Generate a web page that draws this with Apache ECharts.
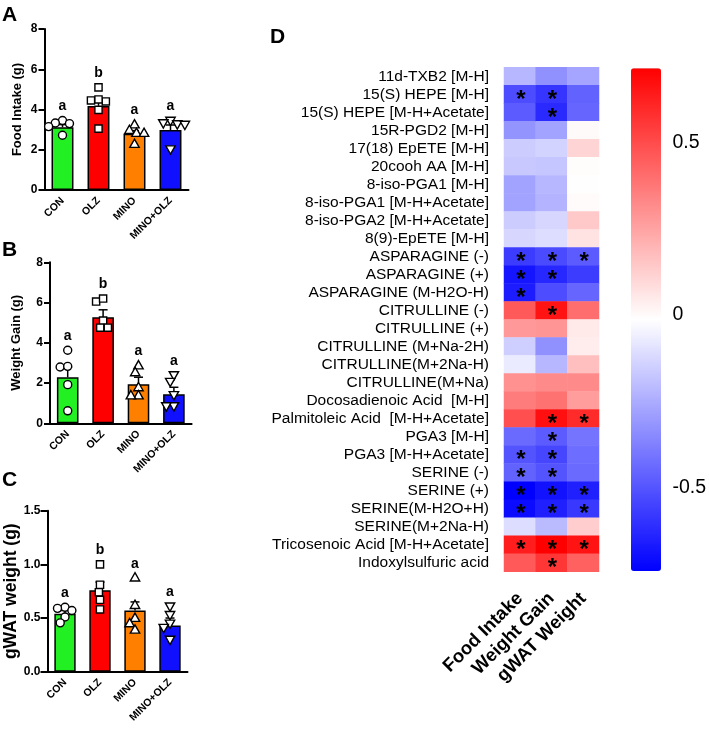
<!DOCTYPE html>
<html><head><meta charset="utf-8">
<script src="https://cdn.jsdelivr.net/npm/echarts@6/dist/echarts.min.js"></script>
<style>html,body{margin:0;padding:0;background:#fff}#c{width:709px;height:738px}</style>
</head><body><div id="c"></div>
<script>
// ---------- data: bar panels ----------
const groups = ['CON', 'OLZ', 'MINO', 'MINO+OLZ'];

const foodMean = [3.12, 4.18, 2.79, 2.98];
const foodSem = [0.13, 0.30, 0.16, 0.25];
const foodPoints = [
  [3.45, 3.33, 3.3, 3.15, 2.72],
  [5.1, 4.45, 4.4, 4.5, 3.98, 3.05],
  [3.25, 2.97, 2.83, 2.83, 2.28],
  [3.45, 3.33, 3.28, 3.25, 2.03]
];
const foodLetters = ['a', 'b', 'a', 'a'];

const weightMean = [2.29, 5.27, 1.94, 1.44];
const weightSem = [0.5, 0.37, 0.35, 0.35];
const weightPoints = [
  [3.63, 2.8, 2.83, 1.92, 0.62],
  [6.05, 6.2, 5.1, 4.75, 4.75],
  [2.87, 2.53, 1.78, 1.38, 1.38],
  [2.4, 2.07, 1.41, 0.86, 0.86]
];
const weightLetters = ['a', 'b', 'a', 'a'];

const gwatMean = [0.54, 0.76, 0.57, 0.43];
const gwatSem = [0.03, 0.075, 0.08, 0.07];
const gwatPoints = [
  [0.60, 0.57, 0.59, 0.51, 0.455],
  [1.0, 0.74, 0.81, 0.67, 0.58],
  [0.876, 0.62, 0.50, 0.45, 0.39],
  [0.61, 0.53, 0.45, 0.41, 0.30]
];
const gwatLetters = ['a', 'b', 'a', 'a'];

const yTicks46 = [0, 2, 4, 6, 8];
const yTicksC = [0, 0.5, 1.0, 1.5];

// ---------- data: heatmap ----------
const metabolites = [
  '11d-TXB2 [M-H]', '15(S) HEPE [M-H]', '15(S) HEPE [M-H+Acetate]', '15R-PGD2 [M-H]',
  '17(18) EpETE [M-H]', '20cooh AA [M-H]', '8-iso-PGA1 [M-H]', '8-iso-PGA1 [M-H+Acetate]',
  '8-iso-PGA2 [M-H+Acetate]', '8(9)-EpETE [M-H]', 'ASPARAGINE (-)', 'ASPARAGINE (+)',
  'ASPARAGINE (M-H2O-H)', 'CITRULLINE (-)', 'CITRULLINE (+)', 'CITRULLINE (M+Na-2H)',
  'CITRULLINE(M+2Na-H)', 'CITRULLINE(M+Na)', 'Docosadienoic Acid  [M-H]', 'Palmitoleic Acid  [M-H+Acetate]',
  'PGA3 [M-H]', 'PGA3 [M-H+Acetate]', 'SERINE (-)', 'SERINE (+)',
  'SERINE(M-H2O+H)', 'SERINE(M+2Na-H)', 'Tricosenoic Acid [M-H+Acetate]', 'Indoxylsulfuric acid'
];
const traits = ['Food Intake', 'Weight Gain', 'gWAT Weight'];
const corrFood = [-0.22, -0.52, -0.48, -0.32, -0.16, -0.17, -0.28, -0.28, -0.16, -0.13,
  -0.57, -0.68, -0.66, 0.46, 0.28, -0.15, -0.07, 0.30, 0.36, 0.49,
  -0.44, -0.50, -0.46, -0.741, -0.71, -0.11, 0.63, 0.46];
const corrWeight = [-0.33, -0.59, -0.62, -0.28, -0.14, -0.18, -0.22, -0.23, -0.13, -0.11,
  -0.53, -0.63, -0.52, 0.66, 0.29, -0.33, -0.22, 0.32, 0.39, 0.67,
  -0.48, -0.54, -0.50, -0.69, -0.65, -0.21, 0.714, 0.56];
const corrGwat = [-0.27, -0.46, -0.45, 0.0, 0.11, -0.005, -0.01, -0.003, 0.14, 0.07,
  -0.48, -0.57, -0.45, 0.40, 0.05, 0.04, 0.17, 0.32, 0.27, 0.59,
  -0.41, -0.43, -0.44, -0.65, -0.58, 0.13, 0.66, 0.44];
const sigFood = [1, 10, 11, 12, 21, 22, 23, 24, 26];
const sigWeight = [1, 2, 10, 11, 13, 19, 20, 21, 22, 23, 24, 26, 27];
const sigGwat = [10, 19, 23, 24, 26];
const colorMin = -0.741, colorMax = 0.714;
const colorTicks = [-0.5, 0, 0.5];

// ---------- styles ----------
const FONT = 'Liberation Sans, Arial, sans-serif';
const barColors = ['#22f022', '#ff0000', '#ff8000', '#1010ff'];
const symbols = ['circle', 'rect', 'triangle', 'triangleDown'];

function swarmOffsets(ys, d) {
  const order = ys.map((y, i) => i).sort((a, b) => ys[a] - ys[b]);
  const xs = ys.map(() => 0);
  const placed = [];
  for (const i of order) {
    const bans = [];
    for (const j of placed) {
      const dy = Math.abs(ys[j] - ys[i]);
      if (dy < d) { const w = Math.sqrt(d * d - dy * dy); bans.push([xs[j] - w, xs[j] + w]); }
    }
    const cands = [0];
    bans.forEach(b => cands.push(b[0], b[1]));
    cands.sort((a, b) => (Math.abs(a) - Math.abs(b)) || (a - b));
    let best = 0;
    for (const c of cands) {
      if (bans.every(b => c <= b[0] + 1e-6 || c >= b[1] - 1e-6)) { best = c; break; }
    }
    xs[i] = best; placed.push(i);
  }
  return xs;
}

function shapeFor(kind, cx, cy) {
  const style = { fill: '#fff', stroke: '#000', lineWidth: 1.4 };
  if (kind === 'circle') return { type: 'circle', shape: { cx, cy, r: 4 }, style };
  if (kind === 'rect') return { type: 'rect', shape: { x: cx - 3.6, y: cy - 3.6, width: 7.2, height: 7.2 }, style };
  if (kind === 'triangle') return { type: 'polygon', shape: { points: [[cx, cy - 5], [cx + 4.7, cy + 3.3], [cx - 4.7, cy + 3.3]] }, style };
  return { type: 'polygon', shape: { points: [[cx - 4.7, cy - 3.3], [cx + 4.7, cy - 3.3], [cx, cy + 5]] }, style };
}

function panelSeries(idx, means, sems, pts, letters) {
  const pointData = [];
  pts.forEach((arr, g) => arr.forEach((v, k) => pointData.push([g, v, k])));
  return [
    {
      type: 'bar', xAxisIndex: idx, yAxisIndex: idx, barWidth: '61%', z: 2,
      data: means.map((m, g) => ({ value: m, itemStyle: { color: barColors[g] } })),
      itemStyle: { borderColor: '#000', borderWidth: 1.5 },
      emphasis: { disabled: true }, silent: true
    },
    {
      type: 'custom', xAxisIndex: idx, yAxisIndex: idx, silent: true, z: 5, clip: false,
      data: means.map((m, g) => [g, m, sems[g]]),
      renderItem: (params, api) => {
        const g = api.value(0), m = api.value(1), s = api.value(2);
        const b = api.coord([g, m]), t = api.coord([g, m + s]);
        const ls = { stroke: '#000', lineWidth: 1.5 };
        return { type: 'group', children: [
          { type: 'line', shape: { x1: b[0], y1: b[1], x2: t[0], y2: t[1] }, style: ls },
          { type: 'line', shape: { x1: t[0] - 4.5, y1: t[1], x2: t[0] + 4.5, y2: t[1] }, style: ls }
        ] };
      }
    },
    {
      type: 'custom', xAxisIndex: idx, yAxisIndex: idx, silent: true, z: 6, clip: false,
      data: pointData,
      renderItem: (params, api) => {
        const g = api.value(0), v = api.value(1), k = api.value(2);
        const ys = pts[g].map(val => api.coord([g, val])[1]);
        const offs = swarmOffsets(ys, 7.6);
        const c = api.coord([g, v]);
        return shapeFor(symbols[g], c[0] + offs[k], c[1]);
      }
    },
    {
      type: 'custom', xAxisIndex: idx, yAxisIndex: idx, silent: true, z: 6, clip: false,
      data: letters.map((l, g) => [g, Math.max.apply(null, pts[g])]),
      renderItem: (params, api) => {
        const g = api.value(0);
        const c = api.coord([g, api.value(1)]);
        return { type: 'text', x: c[0], y: c[1] - 7, style: {
          text: letters[g], fill: '#000', font: 'bold 14px ' + FONT, align: 'center', verticalAlign: 'bottom' } };
      }
    }
  ];
}

const panelGrids = [
  { left: 44.5, top: 29, width: 144, height: 161 },
  { left: 50, top: 262.3, width: 141.6, height: 161 },
  { left: 47.5, top: 510.7, width: 140, height: 161 }
];

function barXAxis(i) {
  return {
    type: 'category', gridIndex: i, data: groups,
    axisLine: { lineStyle: { color: '#000', width: 2 } },
    axisTick: { alignWithLabel: true, length: 6, lineStyle: { color: '#000', width: 2 } },
    axisLabel: { rotate: 45, interval: 0, fontSize: 10.5, fontWeight: 'bold', color: '#000', fontFamily: FONT, margin: 9 }
  };
}
function barYAxis(i, name, max, interval, nameSize, nameGap, ticks, fmt, tickLen) {
  return {
    type: 'value', gridIndex: i, min: 0, max, interval,
    name, nameLocation: 'middle', nameGap,
    nameTextStyle: { fontSize: nameSize, fontWeight: 'bold', color: '#000', fontFamily: FONT },
    axisLine: { show: true, lineStyle: { color: '#000', width: 2 } },
    axisTick: { show: true, length: tickLen, lineStyle: { color: '#000', width: 2 } },
    axisLabel: { color: '#000', fontWeight: 'bold', fontSize: 12, fontFamily: FONT, margin: 7,
      customValues: ticks, formatter: fmt },
    splitLine: { show: false }
  };
}

const heatData = [];
[corrFood, corrWeight, corrGwat].forEach((col, x) => {
  const sig = [sigFood, sigWeight, sigGwat][x];
  col.forEach((v, y) => heatData.push([x, y, v, sig.indexOf(y) >= 0 ? 1 : 0]));
});

const option = {
  animation: false,
  backgroundColor: '#fff',
  graphic: [
    { type: 'text', left: 2, top: 5, style: { text: 'A', font: 'bold 21px ' + FONT, fill: '#000' } },
    { type: 'text', left: 2, top: 240, style: { text: 'B', font: 'bold 21px ' + FONT, fill: '#000' } },
    { type: 'text', left: 2, top: 470, style: { text: 'C', font: 'bold 21px ' + FONT, fill: '#000' } },
    { type: 'text', left: 270, top: 27, style: { text: 'D', font: 'bold 21px ' + FONT, fill: '#000' } }
  ],
  grid: [
    panelGrids[0], panelGrids[1], panelGrids[2],
    { left: 504, top: 67.3, width: 95, height: 504.4 },
    { left: 631, top: 68.3, width: 30, height: 502.7 }
  ],
  xAxis: [
    barXAxis(0), barXAxis(1), barXAxis(2),
    {
      type: 'category', gridIndex: 3, data: traits,
      axisLine: { show: false }, axisTick: { show: false }, splitArea: { show: false },
      axisLabel: { rotate: 45, interval: 0, fontSize: 18.5, fontWeight: 'bold', color: '#000', fontFamily: FONT, margin: 24 }
    },
    { type: 'value', gridIndex: 4, show: false, min: 0, max: 1 }
  ],
  yAxis: [
    barYAxis(0, 'Food Intake (g)', 8, 2, 13, 21, yTicks46, v => String(v), 6),
    barYAxis(1, 'Weight Gain (g)', 8, 2, 13, 27, yTicks46, v => String(v), 6),
    barYAxis(2, 'gWAT weight (g)', 1.5, 0.5, 17.5, 21, yTicksC, v => v.toFixed(1), 7),
    {
      type: 'category', gridIndex: 3, data: metabolites, inverse: true,
      axisLine: { show: false }, axisTick: { show: false }, splitArea: { show: false },
      axisLabel: { interval: 0, fontSize: 15.5, color: '#000', fontFamily: FONT, margin: 15 }
    },
    {
      type: 'value', gridIndex: 4, position: 'left', min: colorMin, max: colorMax,
      axisLine: { show: false }, splitLine: { show: false },
      axisTick: { show: true, inside: true, length: 5, customValues: [-0.5, 0.5], lineStyle: { color: '#fff', width: 2 } },
      axisLabel: { show: false }
    },
    {
      type: 'value', gridIndex: 4, position: 'right', min: colorMin, max: colorMax,
      axisLine: { show: false }, splitLine: { show: false },
      axisTick: { show: true, inside: true, length: 5, customValues: [-0.5, 0.5], lineStyle: { color: '#fff', width: 2 } },
      axisLabel: { show: true, customValues: colorTicks, fontSize: 19.5, color: '#000', fontFamily: FONT, margin: 12 }
    }
  ],
  visualMap: {
    type: 'continuous', min: colorMin, max: colorMax, seriesIndex: 12, dimension: 2,
    left: 631, top: 68.3, itemWidth: 30, itemHeight: 502.7, padding: 0,
    calculable: false, hoverLink: false, text: null, showLabel: false, z: 1,
    inRange: { color: ['#0000ff', '#ffffff', '#ff0000'] }
  },
  series: [
    ...panelSeries(0, foodMean, foodSem, foodPoints, foodLetters),
    ...panelSeries(1, weightMean, weightSem, weightPoints, weightLetters),
    ...panelSeries(2, gwatMean, gwatSem, gwatPoints, gwatLetters),
    {
      type: 'heatmap', xAxisIndex: 3, yAxisIndex: 3, data: heatData, silent: true,
      emphasis: { disabled: true },
      label: {
        show: true, formatter: p => (p.value[3] ? '*' : ''),
        fontSize: 24, fontWeight: 'bold', color: '#000', fontFamily: FONT, offset: [1, 6]
      }
    }
  ]
};

const chart = echarts.init(document.getElementById('c'), null, { renderer: 'canvas' });
chart.setOption(option);
</script>
</body></html>
